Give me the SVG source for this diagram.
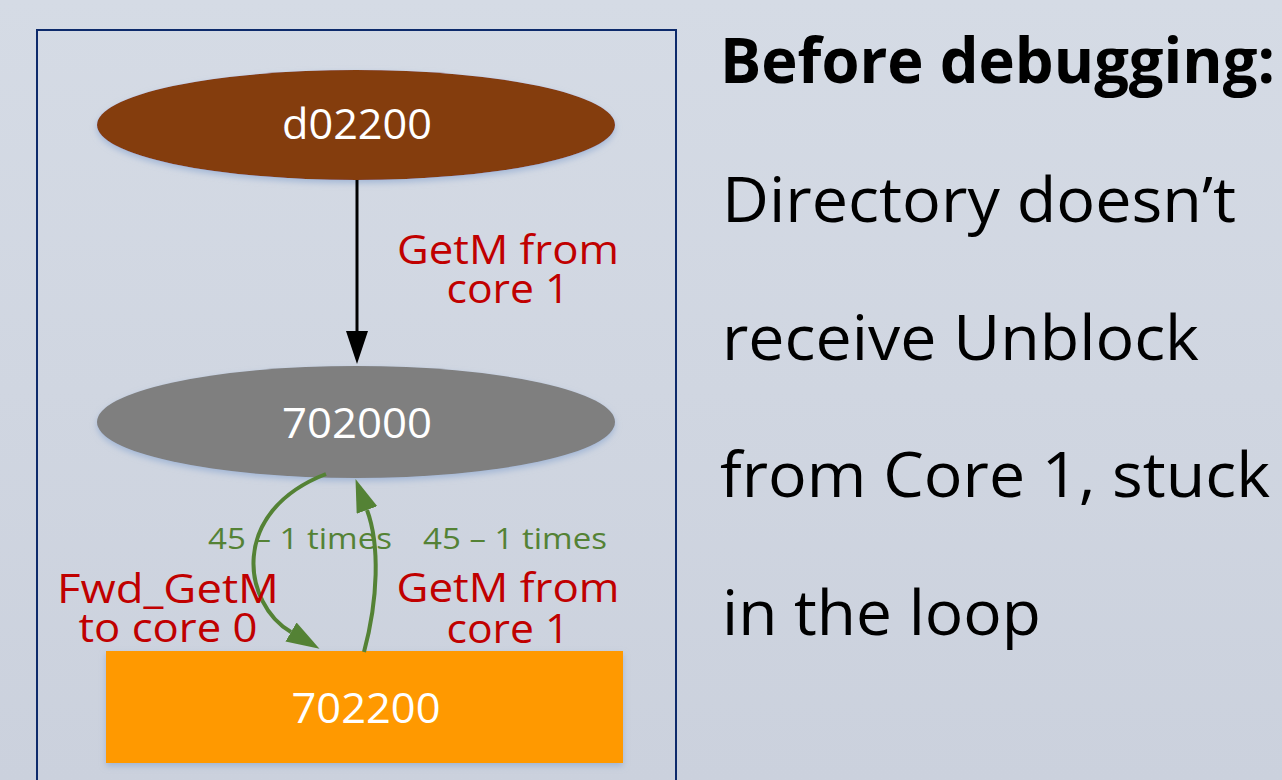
<svg xmlns="http://www.w3.org/2000/svg" width="1282" height="780" viewBox="0 0 1282 780">
<defs>
<linearGradient id="bg" x1="0" y1="0" x2="0" y2="1">
<stop offset="0" stop-color="#d5dbe5"/>
<stop offset="1" stop-color="#cbd1dd"/>
</linearGradient>
<filter id="sh" x="-10%" y="-20%" width="120%" height="150%">
<feDropShadow dx="0" dy="3" stdDeviation="3" flood-color="#8fa9d0" flood-opacity="0.7"/>
</filter>
<marker id="ak" markerUnits="userSpaceOnUse" markerWidth="34" markerHeight="24" refX="0" refY="11" orient="auto">
<path d="M0,0 L33,11 L0,22 z" fill="#000"/>
</marker>
<marker id="ag" markerUnits="userSpaceOnUse" markerWidth="34" markerHeight="24" refX="0" refY="11" orient="auto">
<path d="M0,0 L33,11 L0,22 z" fill="#548235"/>
</marker>
</defs>
<style>
text{font-family:"Open Sans","Liberation Sans",sans-serif}
.nl{fill:#fff;font-size:42px;text-anchor:middle}
.rl{fill:#c00000;font-size:40px;text-anchor:middle}
.gl{fill:#548235;font-size:30px}
.rt{fill:#000;font-size:62px}
.edge{fill:none}
</style>
<rect x="0" y="0" width="1282" height="780" fill="url(#bg)"/>
<rect x="37" y="30" width="639" height="780" fill="none" stroke="#0d2a6b" stroke-width="2"/>

<g id="node-d02200">
<ellipse cx="356" cy="125" rx="259" ry="55" fill="#843c0c" filter="url(#sh)"/>
<text class="nl" x="357" y="139" textLength="150" lengthAdjust="spacingAndGlyphs">d02200</text>
</g>
<g id="node-702000">
<ellipse cx="356" cy="422" rx="259" ry="56" fill="#7f7f7f" filter="url(#sh)"/>
<text class="nl" x="357" y="438" textLength="150" lengthAdjust="spacingAndGlyphs">702000</text>
</g>
<g id="node-702200">
<rect x="106" y="651" width="517" height="112" fill="#ff9900" filter="url(#sh)"/>
<text class="nl" x="366" y="723" textLength="149" lengthAdjust="spacingAndGlyphs">702200</text>
</g>

<g id="connectors">
<path class="edge" d="M357,180 L357,331" stroke="#000" stroke-width="3" marker-end="url(#ak)"/>
<path class="edge" d="M326,474 C228,512 243,604 291,632" stroke="#548235" stroke-width="4" marker-end="url(#ag)"/>
<path class="edge" d="M364,652 C378,600 380,545 367,510" stroke="#548235" stroke-width="4" marker-end="url(#ag)"/>
</g>

<g id="labels">
<text class="rl" x="508" y="264" textLength="222" lengthAdjust="spacingAndGlyphs">GetM from</text>
<text class="rl" x="508" y="303" textLength="123" lengthAdjust="spacingAndGlyphs">core 1</text>
<text class="gl" x="208" y="549" textLength="184" lengthAdjust="spacingAndGlyphs">45 – 1 times</text>
<text class="gl" x="423" y="549" textLength="184" lengthAdjust="spacingAndGlyphs">45 – 1 times</text>
<text class="rl" x="168" y="603" textLength="222" lengthAdjust="spacingAndGlyphs">Fwd_GetM</text>
<text class="rl" x="168" y="642" textLength="179" lengthAdjust="spacingAndGlyphs">to core 0</text>
<text class="rl" x="508" y="602" textLength="223" lengthAdjust="spacingAndGlyphs">GetM from</text>
<text class="rl" x="508" y="643" textLength="123" lengthAdjust="spacingAndGlyphs">core 1</text>
</g>

<g id="notes">
<text class="rt" x="720" y="83" font-weight="bold" textLength="555" lengthAdjust="spacingAndGlyphs">Before debugging:</text>
<text class="rt" x="722" y="222" textLength="514" lengthAdjust="spacingAndGlyphs">Directory doesn’t</text>
<text class="rt" x="722" y="360" textLength="477" lengthAdjust="spacingAndGlyphs">receive Unblock</text>
<text class="rt" x="720" y="497" textLength="550" lengthAdjust="spacingAndGlyphs">from Core 1, stuck</text>
<text class="rt" x="722" y="635" textLength="319" lengthAdjust="spacingAndGlyphs">in the loop</text>
</g>
</svg>
